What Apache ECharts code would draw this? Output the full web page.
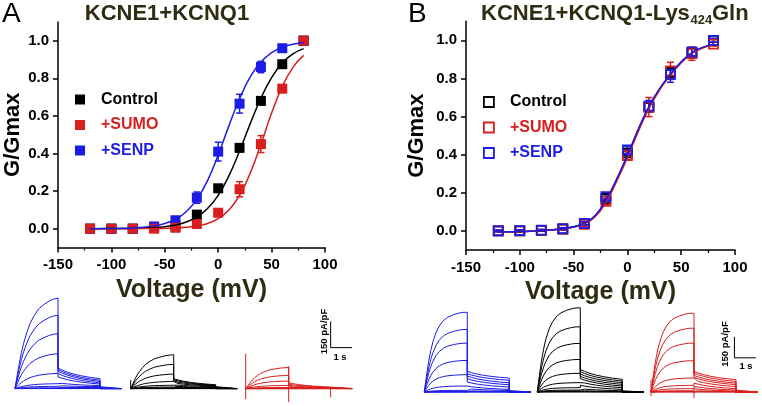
<!DOCTYPE html>
<html>
<head>
<meta charset="utf-8">
<script src="https://cdn.jsdelivr.net/npm/echarts@6/dist/echarts.min.js"></script>
<style>
html, body { margin: 0; padding: 0; background: #fff; }
#main { width: 762px; height: 406px; }
</style>
</head>
<body>
<div id="main"></div>
<script>
// G-V data, test voltages in mV
var voltages = [-120, -100, -80, -60, -40, -20, 0, 20, 40, 60, 80];
var yTicks = [0, 0.2, 0.4, 0.6, 0.8, 1.0];

// panel A: KCNE1+KCNQ1
var ctrlA    = [0, 0, 0, 0.005, 0.012, 0.075, 0.215, 0.43, 0.68, 0.875, 1.0];
var ctrlAErr = [0.004, 0.004, 0.004, 0.004, 0.005, 0.01, 0.015, 0.02, 0.02, 0.015, 0];
var sumoA    = [0, 0, 0, 0, 0.005, 0.025, 0.085, 0.21, 0.45, 0.745, 1.0];
var sumoAErr = [0.004, 0.004, 0.004, 0.004, 0.005, 0.02, 0.02, 0.04, 0.045, 0.02, 0];
var senpA    = [0, 0, 0, 0.012, 0.045, 0.165, 0.41, 0.665, 0.86, 0.96, 1.0];
var senpAErr = [0.004, 0.004, 0.004, 0.005, 0.01, 0.03, 0.05, 0.05, 0.03, 0.015, 0];

// panel B: KCNE1+KCNQ1-Lys424Gln
var ctrlB    = [0, 0, 0.003, 0.01, 0.04, 0.17, 0.41, 0.65, 0.83, 0.935, 1.0];
var ctrlBErr = [0.004, 0.004, 0.004, 0.005, 0.008, 0.012, 0.015, 0.02, 0.02, 0.02, 0.01];
var sumoB    = [0, 0, 0.003, 0.01, 0.035, 0.155, 0.395, 0.65, 0.84, 0.93, 0.98];
var sumoBErr = [0.004, 0.004, 0.004, 0.005, 0.01, 0.015, 0.02, 0.05, 0.045, 0.035, 0.01];
var senpB    = [0, 0.002, 0.004, 0.012, 0.04, 0.18, 0.425, 0.655, 0.82, 0.94, 1.0];
var senpBErr = [0.004, 0.004, 0.004, 0.005, 0.01, 0.015, 0.02, 0.03, 0.04, 0.02, 0.01];

// Boltzmann fit curves
var fitV = [-120, -110, -100, -90, -80, -70, -60, -50, -40, -30, -20, -10, 0, 10, 20, 30, 40, 50, 60, 70, 80];
var fitCtrlA = [0, 0, 0.001, 0.001, 0.002, 0.004, 0.006, 0.011, 0.02, 0.036, 0.063, 0.107, 0.178, 0.281, 0.413, 0.559, 0.694, 0.804, 0.881, 0.93, 0.958];
var fitSumoA = [0, 0, 0, 0, 0, 0.001, 0.001, 0.002, 0.004, 0.008, 0.015, 0.028, 0.054, 0.1, 0.178, 0.296, 0.45, 0.615, 0.756, 0.858, 0.922];
var fitSenpA = [0, 0.001, 0.001, 0.002, 0.004, 0.008, 0.015, 0.028, 0.05, 0.09, 0.156, 0.256, 0.392, 0.547, 0.69, 0.808, 0.887, 0.936, 0.965, 0.981, 0.99];
var fitCtrlB = [-0.005, -0.004, -0.003, -0.001, 0.002, 0.006, 0.012, 0.022, 0.041, 0.08, 0.16, 0.27, 0.395, 0.53, 0.65, 0.745, 0.82, 0.885, 0.935, 0.962, 0.98];
var fitSumoB = [-0.005, -0.004, -0.003, -0.001, 0.002, 0.005, 0.011, 0.02, 0.037, 0.074, 0.15, 0.26, 0.385, 0.52, 0.642, 0.74, 0.818, 0.882, 0.932, 0.96, 0.978];
var fitSenpB = [-0.005, -0.004, -0.003, -0.001, 0.002, 0.006, 0.012, 0.022, 0.041, 0.081, 0.162, 0.272, 0.397, 0.532, 0.652, 0.747, 0.822, 0.887, 0.936, 0.963, 0.981];

// current traces: pA/pF at end of 2 s step, start and end of tail (one per sweep)
var stepTimes = [0, 0.1, 0.2, 0.3, 0.4, 0.55, 0.7, 0.9, 1.1, 1.35, 1.6, 1.8, 2.0];
var actShapeA = [0, 0.14, 0.28, 0.4, 0.5, 0.62, 0.72, 0.81, 0.88, 0.93, 0.97, 0.99, 1.0];
var actShapeB = [0, 0.2, 0.38, 0.52, 0.63, 0.75, 0.83, 0.9, 0.94, 0.97, 0.99, 1.0, 1.0];
var tailTimes = [2.0, 2.2, 2.45, 2.75, 3.1, 3.5, 3.95];
var tailShape = [1, 0.8, 0.6, 0.42, 0.26, 0.12, 0];
var sweepEnd = 4.95;

var senpAPeak  = [519, 421, 315, 200, 87, 28, 13, 4, 2, 1, 0];
var senpATail0 = [118, 110, 100, 86, 67, 33, 17, 7, 3, 1, 0];
var senpATail1 = [57, 48, 41, 33, 26, 17, 11, 6, 3, 1, 0];
var ctrlAPeak  = [194, 139, 83, 41, 19, 9, 4, 2, 1, 0, 0];
var ctrlATail0 = [56, 50, 42, 33, 22, 14, 8, 4, 2, 1, 0];
var ctrlATail1 = [22, 19, 17, 14, 11, 7, 4, 2, 1, 0, 0];
var sumoAPeak  = [121, 76, 43, 18, 6, 3, 1, 0, 0, 0, 0];
var sumoATail0 = [33, 25, 17, 10, 6, 3, 1, 0, 0, 0, 0];
var sumoATail1 = [8, 7, 5, 3, 2, 1, 0.5, 0, 0, 0, 0];

var senpBPeak  = [571, 448, 350, 226, 124, 43, 12, 4, 2, 1, 0];
var senpBTail0 = [148, 131, 114, 95, 71, 43, 24, 9, 4, 2, 0];
var senpBTail1 = [100, 84, 66, 52, 36, 19, 11, 5, 2, 1, 0];
var ctrlBPeak  = [603, 467, 348, 233, 134, 67, 31, 14, 8, 4, 0];
var ctrlBTail0 = [162, 146, 129, 112, 96, 74, 48, 24, 10, 4, 0];
var ctrlBTail1 = [91, 79, 67, 55, 43, 31, 19, 9, 4, 2, 0];
var sumoBPeak  = [564, 457, 350, 224, 100, 48, 24, 9, 5, 2, 0];
var sumoBTail0 = [148, 136, 119, 105, 86, 64, 41, 24, 10, 4, 0];
var sumoBTail1 = [89, 76, 64, 53, 39, 24, 14, 7, 3, 1, 0];

// capacitive spikes: time, low, high
var spikeTimes  = [0, 2.0, 3.95];
var sumoASpikeLo = [-60, -78, -50];
var sumoASpikeHi = [200, 128, 0];
var sumoBSpikeLo = [-31, -41, -10];
var sumoBSpikeHi = [88, 0, 0];
var ctrlASpikeLo = [0, 0, 0];
var ctrlASpikeHi = [48, 0, 0];

var BLUE = '#1c1ce6', RED = '#d81e1e', BLACK = '#000000', OLIVE = '#2e2d14';
var FONT = 'Liberation Sans';

function pairs(xs, ys) {
    return xs.map(function (x, i) { return [x, ys[i]]; });
}
function errs(xs, ys, es) {
    return xs.map(function (x, i) { return [x, ys[i] - es[i], ys[i] + es[i]]; });
}

function renderErr(params, api) {
    var x = api.value(0);
    var top = api.coord([x, api.value(2)]);
    var bot = api.coord([x, api.value(1)]);
    var st = { stroke: api.visual('color'), lineWidth: 1.5, fill: null };
    var w = 3.5;
    return {
        type: 'group',
        children: [
            { type: 'line', shape: { x1: top[0], y1: top[1], x2: bot[0], y2: bot[1] }, style: st },
            { type: 'line', shape: { x1: top[0] - w, y1: top[1], x2: top[0] + w, y2: top[1] }, style: st },
            { type: 'line', shape: { x1: bot[0] - w, y1: bot[1], x2: bot[0] + w, y2: bot[1] }, style: st }
        ]
    };
}

function gvX(gi, gap) {
    return {
        type: 'value', gridIndex: gi, min: -150, max: 100, interval: 50,
        axisLine: { show: true, onZero: false, lineStyle: { color: '#000', width: 1.5 } },
        axisTick: { show: true, length: 5, lineStyle: { color: '#000', width: 1.5 } },
        minorTick: { show: true, splitNumber: 2, length: 3, lineStyle: { color: '#000', width: 1.2 } },
        splitLine: { show: false },
        axisLabel: { color: '#000', fontWeight: 'bold', fontSize: 15, fontFamily: FONT, margin: 10 },
        name: 'Voltage (mV)', nameLocation: 'middle', nameGap: gap,
        nameTextStyle: { color: OLIVE, fontWeight: 'bold', fontSize: 25, fontFamily: FONT }
    };
}
function gvY(gi, gap) {
    return {
        type: 'value', gridIndex: gi, min: -0.1, max: 1.1, interval: 0.1,
        axisLine: { show: true, onZero: false, lineStyle: { color: '#000', width: 1.5 } },
        axisTick: { show: true, length: 5, customValues: yTicks, lineStyle: { color: '#000', width: 1.5 } },
        splitLine: { show: false },
        axisLabel: {
            customValues: yTicks, color: '#000', fontWeight: 'bold', fontSize: 15, fontFamily: FONT, margin: 9,
            formatter: function (v) { return v.toFixed(1); }
        },
        name: 'G/Gmax', nameLocation: 'middle', nameGap: gap,
        nameTextStyle: { color: '#000', fontWeight: 'bold', fontSize: 22, fontFamily: FONT }
    };
}

var series = [];

function gvSet(gi, name, color, ys, es, hollow) {
    series.push({
        name: 'err' + gi + name, type: 'custom', xAxisIndex: gi, yAxisIndex: gi,
        renderItem: renderErr, data: errs(voltages, ys, es), itemStyle: { color: color }, z: 2, silent: true
    });
    series.push({
        name: name, type: 'scatter', xAxisIndex: gi, yAxisIndex: gi, symbol: 'rect',
        symbolSize: hollow ? 9 : 10, data: pairs(voltages, ys), z: 3,
        itemStyle: hollow ? { color: 'transparent', borderColor: color, borderWidth: 1.8, opacity: 1 }
                          : { color: color, opacity: 1 }
    });
}
function fitLine(gi, color, fit) {
    series.push({
        type: 'line', xAxisIndex: gi, yAxisIndex: gi, data: pairs(fitV, fit), smooth: true,
        showSymbol: false, symbol: 'none', lineStyle: { color: color, width: 1.5 }, z: 4, silent: true
    });
}

gvSet(0, 'Control', BLACK, ctrlA, ctrlAErr);
gvSet(0, '+SENP', BLUE, senpA, senpAErr);
gvSet(0, '+SUMO', RED, sumoA, sumoAErr);
fitLine(0, BLACK, fitCtrlA);
fitLine(0, RED, fitSumoA);
fitLine(0, BLUE, fitSenpA);

gvSet(1, 'Control ', BLACK, ctrlB, ctrlBErr, true);
gvSet(1, '+SUMO ', RED, sumoB, sumoBErr, true);
gvSet(1, '+SENP ', BLUE, senpB, senpBErr, true);
fitLine(1, BLACK, fitCtrlB);
fitLine(1, RED, fitSumoB);
fitLine(1, BLUE, fitSenpB);

function sweep(peak, t0, t1, act) {
    var pts = [];
    for (var j = 0; j < stepTimes.length; j++) pts.push([stepTimes[j], peak * act[j]]);
    for (var k = 0; k < tailTimes.length; k++) pts.push([tailTimes[k], t1 + (t0 - t1) * tailShape[k]]);
    pts.push([tailTimes[tailTimes.length - 1], 0]);
    pts.push([sweepEnd, 0]);
    return pts;
}
function family(gi, color, peaks, tail0, tail1, act) {
    for (var i = peaks.length - 1; i >= 0; i--) {
        series.push({
            type: 'line', xAxisIndex: gi, yAxisIndex: gi, data: sweep(peaks[i], tail0[i], tail1[i], act),
            symbol: 'none', lineStyle: { color: color, width: 1 }, silent: true
        });
    }
}
function spikes(gi, color, lo, hi) {
    for (var i = 0; i < spikeTimes.length; i++) {
        if (lo[i] === hi[i]) continue;
        series.push({
            type: 'line', xAxisIndex: gi, yAxisIndex: gi, data: [[spikeTimes[i], lo[i]], [spikeTimes[i], hi[i]]],
            symbol: 'none', lineStyle: { color: color, width: 1 }, silent: true
        });
    }
}
function scaleBar(gi, t, i0) {
    series.push({
        type: 'line', xAxisIndex: gi, yAxisIndex: gi, data: [[t, i0 + 150], [t, i0], [t + 1, i0]],
        symbol: 'none', lineStyle: { color: '#000', width: 1 }, silent: true
    });
}

family(2, BLUE, senpAPeak, senpATail0, senpATail1, actShapeA);
family(3, BLACK, ctrlAPeak, ctrlATail0, ctrlATail1, actShapeA);
spikes(3, BLACK, ctrlASpikeLo, ctrlASpikeHi);
family(4, RED, sumoAPeak, sumoATail0, sumoATail1, actShapeA);
spikes(4, RED, sumoASpikeLo, sumoASpikeHi);
scaleBar(4, 3.95, 235);
family(5, BLUE, senpBPeak, senpBTail0, senpBTail1, actShapeB);
family(6, BLACK, ctrlBPeak, ctrlBTail0, ctrlBTail1, actShapeB);
family(7, RED, sumoBPeak, sumoBTail0, sumoBTail1, actShapeB);
spikes(7, RED, sumoBSpikeLo, sumoBSpikeHi);
scaleBar(7, 3.88, 245);

var traceLefts = [15, 130.7, 245.7, 424.3, 537.3, 651];
var grids = [
    { left: 58, top: 21.9, width: 267, height: 225.6 },
    { left: 466, top: 21.3, width: 269, height: 228.7 }
];
var xAxes = [gvX(0, 28), gvX(1, 26)];
var yAxes = [gvY(0, 33), gvY(1, 38)];
traceLefts.forEach(function (l, i) {
    var isA = i < 3;
    grids.push(isA ? { left: l, top: 294.5, width: 107.5, height: 115.2 }
                   : { left: l, top: 302.7, width: 107.5, height: 103.6 });
    xAxes.push({ type: 'value', gridIndex: i + 2, min: 0, max: 5, show: false });
    yAxes.push({ type: 'value', gridIndex: i + 2, min: -100, max: isA ? 540 : 640, show: false });
});

function legendItem(name, color, hollow) {
    return {
        name: name, icon: 'rect',
        itemStyle: hollow ? { color: 'transparent', borderColor: color, borderWidth: 1.8, opacity: 1 }
                          : { color: color, opacity: 1 },
        textStyle: { color: color }
    };
}
function legendBox(left, top, items) {
    return {
        orient: 'vertical', left: left, top: top, itemWidth: 10, itemHeight: 10, itemGap: 9.5,
        selectedMode: false, data: items,
        formatter: function (n) { return '{g|}' + n.trim(); },
        textStyle: { fontSize: 16, fontWeight: 'bold', fontFamily: FONT, lineHeight: 16, rich: { g: { width: 11 } } }
    };
}

var option = {
    animation: false,
    backgroundColor: '#ffffff',
    grid: grids,
    xAxis: xAxes,
    yAxis: yAxes,
    legend: [
        legendBox(70, 86.5, [legendItem('Control', BLACK), legendItem('+SUMO', RED), legendItem('+SENP', BLUE)]),
        legendBox(478, 89, [legendItem('Control ', BLACK, true), legendItem('+SUMO ', RED, true), legendItem('+SENP ', BLUE, true)])
    ],
    graphic: [
        { type: 'text', left: 2, top: 0, style: { text: 'A', font: '28px "Liberation Sans"', fill: '#000' } },
        { type: 'text', left: 408, top: 0, style: { text: 'B', font: '28px "Liberation Sans"', fill: '#000' } },
        { type: 'text', x: 167, y: 13.5, style: { text: 'KCNE1+KCNQ1', font: 'bold 22px "Liberation Sans"', fill: OLIVE, align: 'center', verticalAlign: 'middle' } },
        { type: 'text', x: 481, y: 13.5, style: { text: 'KCNE1+KCNQ1-Lys', font: 'bold 22px "Liberation Sans"', fill: OLIVE, align: 'left', verticalAlign: 'middle' } },
        { type: 'text', x: 690.5, y: 20, style: { text: '424', font: 'bold 13px "Liberation Sans"', fill: OLIVE, align: 'left', verticalAlign: 'middle' } },
        { type: 'text', x: 712, y: 13.5, style: { text: 'Gln', font: 'bold 22px "Liberation Sans"', fill: OLIVE, align: 'left', verticalAlign: 'middle' } },
        { type: 'text', x: 324, y: 331.5, rotation: Math.PI / 2, style: { text: '150 pA/pF', font: 'bold 9.5px "Liberation Sans"', fill: '#000', align: 'center', verticalAlign: 'middle' } },
        { type: 'text', x: 340, y: 357, style: { text: '1 s', font: 'bold 9.5px "Liberation Sans"', fill: '#000', align: 'center', verticalAlign: 'middle' } },
        { type: 'text', x: 725, y: 344, rotation: Math.PI / 2, style: { text: '150 pA/pF', font: 'bold 9.5px "Liberation Sans"', fill: '#000', align: 'center', verticalAlign: 'middle' } },
        { type: 'text', x: 746, y: 366, style: { text: '1 s', font: 'bold 9.5px "Liberation Sans"', fill: '#000', align: 'center', verticalAlign: 'middle' } }
    ],
    series: series
};

var myChart = echarts.init(document.getElementById('main'));
myChart.setOption(option);
</script>
</body>
</html>
